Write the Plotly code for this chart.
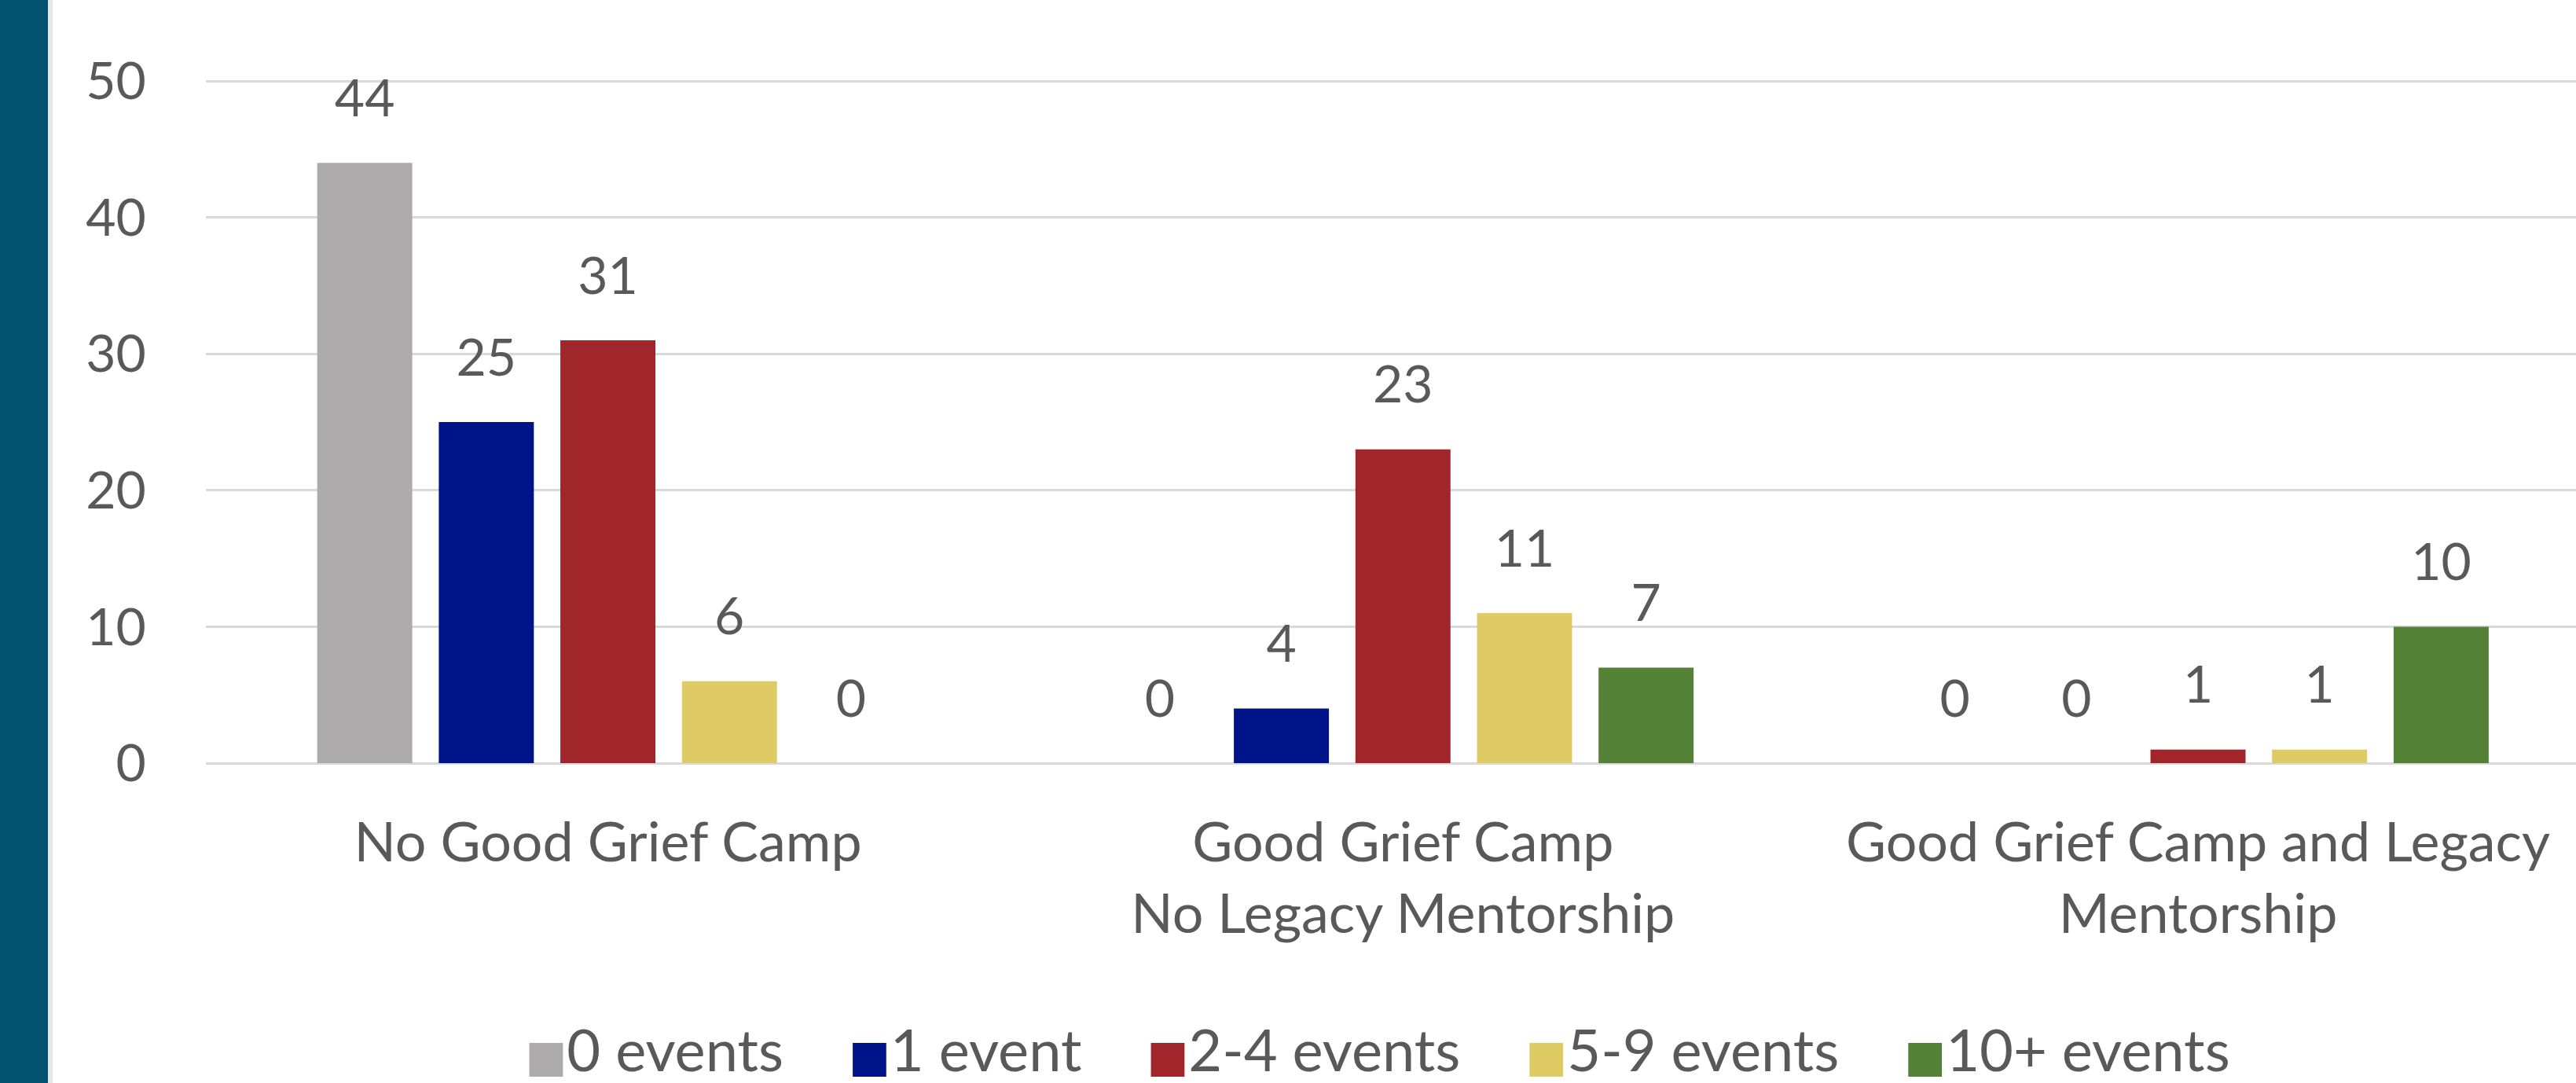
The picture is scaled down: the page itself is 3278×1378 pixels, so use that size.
import plotly.graph_objects as go

# ---- data ----
categories = [
    "No Good Grief Camp",
    "Good Grief Camp<br>No Legacy Mentorship",
    "Good Grief Camp and Legacy<br>Mentorship",
]
series_names = ["0 events", "1 event", "2-4 events", "5-9 events", "10+ events"]
values_0_events = [44, 0, 0]
values_1_event = [25, 4, 0]
values_2_4_events = [31, 23, 1]
values_5_9_events = [6, 11, 1]
values_10_plus_events = [0, 7, 10]
y_tick_values = [0, 10, 20, 30, 40, 50]

series_values = [values_0_events, values_1_event, values_2_4_events,
                 values_5_9_events, values_10_plus_events]
colors = ["#AEABAC", "#001489", "#A0262C", "#DECB63", "#538135"]

# ---- layout constants ----
W, H = 3278, 1378
Y_MAX = 50.3
L, R, T, B = 262, 0, 98, 407
plotW, plotH = W - L - R, H - T - B
TEXT = "#595959"
GRID = "#D9D9D9"
FONT = "Lato"
PAD = "\u00a0\u00a0"

fig = go.Figure()

for i, (name, vals, col) in enumerate(zip(series_names, series_values, colors)):
    g = f"g{i}"
    fig.add_trace(go.Bar(
        x=categories, y=vals, name=name, marker=dict(color=col, line=dict(width=0)),
        offsetgroup=g, showlegend=False, hoverinfo="skip",
    ))
    # value labels
    fig.add_trace(go.Scatter(
        x=categories, y=vals, mode="markers+text", text=[str(v) for v in vals],
        textposition="top center", offsetgroup=g, cliponaxis=False,
        marker=dict(size=67, color="rgba(0,0,0,0)"),
        textfont=dict(family=FONT, size=66, color=TEXT),
        showlegend=False, hoverinfo="skip",
    ))
    # legend entry
    fig.add_trace(go.Scatter(
        x=[None], y=[None], mode="markers", offsetgroup=g,
        marker=dict(size=1, color="rgba(0,0,0,0)"),
        name=(f"<span style='font-family:DejaVu Sans;font-size:56px;color:{col}'>\u25A0</span>"
              f"{name}{PAD}"),
        showlegend=True, hoverinfo="skip",
    ))

# left teal band
fig.add_shape(type="rect", xref="paper", yref="paper",
              x0=-L / plotW - 0.01, x1=(61 - L) / plotW, y0=-1, y1=2,
              fillcolor="#005270", line=dict(width=0), layer="below")
fig.add_shape(type="rect", xref="paper", yref="paper",
              x0=(61 - L) / plotW, x1=(67 - L) / plotW, y0=-1, y1=2,
              fillcolor="#E6E6E6", line=dict(width=0), layer="below")

fig.update_layout(
    width=W, height=H,
    margin=dict(l=L, r=R, t=T, b=B, pad=0, autoexpand=False),
    paper_bgcolor="white", plot_bgcolor="white",
    barmode="group", bargap=0.2355, bargroupgap=0.218,
    scattermode="group", scattergap=0.2355,
    font=dict(family=FONT, color=TEXT, size=66),
    showlegend=True,
    legend=dict(orientation="h", x=0.495, xanchor="center", y=-0.416, yanchor="middle",
                font=dict(family=FONT, size=74, color=TEXT), bgcolor="rgba(0,0,0,0)",
                itemwidth=30),
    xaxis=dict(range=[-0.5056, 2.4754], showgrid=False, zeroline=False, showline=False,
               ticks="outside", ticklen=40, tickcolor="rgba(0,0,0,0)",
               tickfont=dict(family=FONT, size=70, color=TEXT)),
    yaxis=dict(range=[0, Y_MAX], tickvals=y_tick_values, showgrid=True, gridcolor=GRID,
               gridwidth=3, zeroline=True, zerolinecolor=GRID, zerolinewidth=3,
               showline=False, ticks="outside", ticklen=62, tickcolor="rgba(0,0,0,0)",
               tickfont=dict(family=FONT, size=66, color=TEXT)),
)

fig.write_html("out.html", config={"displayModeBar": False},
               post_script="document.body.style.margin='0';document.body.style.overflow='hidden';")
